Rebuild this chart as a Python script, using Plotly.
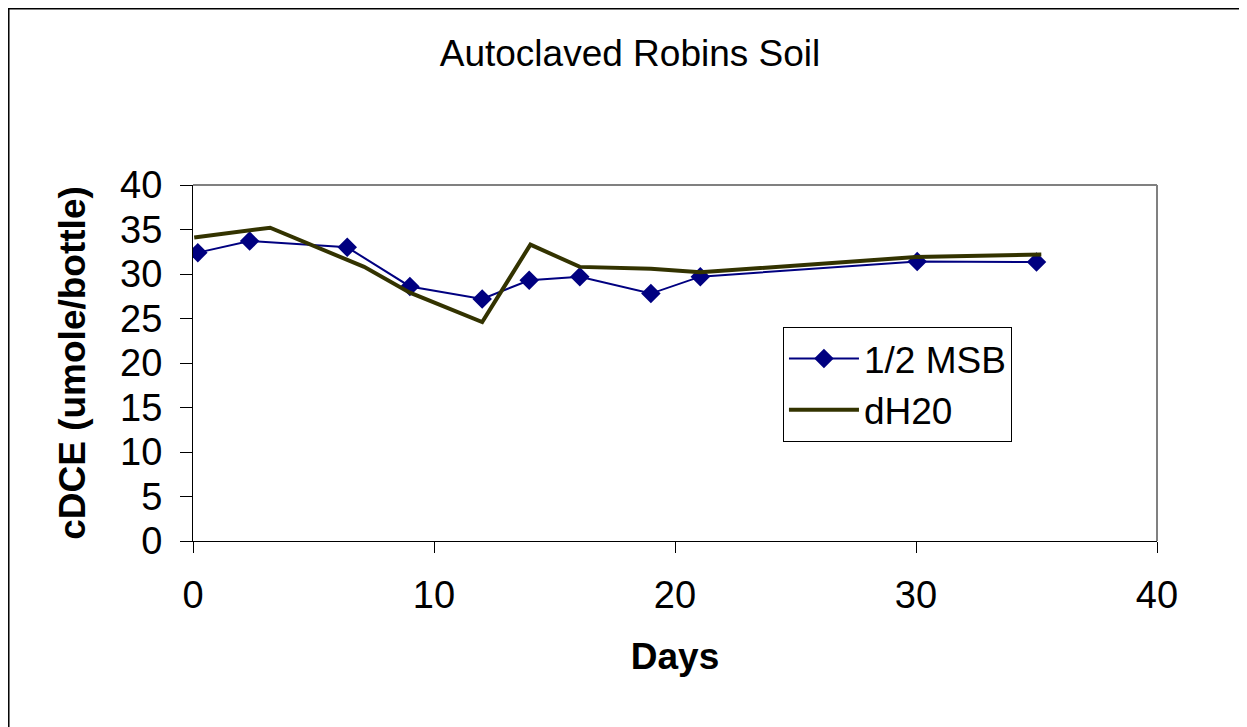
import plotly.graph_objects as go

# Data
msb_days = [0.2, 2.35, 6.4, 9.0, 12.0, 13.95, 16.05, 19.0, 21.05, 30.05, 35.0]
msb_cdce = [32.4, 33.7, 33.0, 28.6, 27.2, 29.3, 29.7, 27.8, 29.7, 31.4, 31.35]

dh2o_days = [0.05, 3.2, 7.1, 9.0, 12.0, 14.0, 16.05, 19.0, 21.05, 30.0, 35.2]
dh2o_cdce = [34.1, 35.2, 30.8, 27.9, 24.6, 33.3, 30.8, 30.6, 30.2, 31.9, 32.2]

x_ticks = [0, 10, 20, 30, 40]
y_ticks = [0, 5, 10, 15, 20, 25, 30, 35, 40]

FONT = "Arial, 'Liberation Sans', sans-serif"

fig = go.Figure()
fig.add_trace(go.Scatter(
    x=msb_days, y=msb_cdce, name="1/2 MSB", mode="lines+markers",
    line=dict(color="#000080", width=2),
    marker=dict(symbol="diamond", size=15, color="#000080"),
))
fig.add_trace(go.Scatter(
    x=dh2o_days, y=dh2o_cdce, name="dH20", mode="lines",
    line=dict(color="#333300", width=4),
))

fig.update_layout(
    width=1239, height=719,
    margin=dict(l=185, r=90, t=177, b=186),
    paper_bgcolor="white", plot_bgcolor="white",
    font=dict(family=FONT, size=38, color="black"),
    title=dict(text="Autoclaved Robins Soil", x=(630 - 8) / 1239, xanchor="center",
               y=1 - 45 / 719, yanchor="middle",
               font=dict(family=FONT, size=37, color="black")),
    showlegend=True,
    legend=dict(x=0.612, y=0.601, xanchor="left", yanchor="top",
                bgcolor="white", bordercolor="black", borderwidth=1,
                font=dict(family=FONT, size=37, color="black"),
                itemwidth=70, tracegroupgap=0),
    xaxis=dict(range=[0, 40], tickvals=x_ticks, showgrid=False, zeroline=False,
               showline=True, linecolor="black", linewidth=1,
               ticks="outside", ticklen=11, tickcolor="black",
               ticklabelstandoff=9,
               tickfont=dict(family=FONT, size=38),
               title=dict(text="<b>Days</b>", standoff=28,
                          font=dict(family=FONT, size=37))),
    yaxis=dict(range=[0, 40], tickvals=y_ticks, showgrid=False, zeroline=False,
               showline=True, linecolor="black", linewidth=1,
               ticks="outside", ticklen=12, tickcolor="black",
               ticklabelstandoff=10,
               tickfont=dict(family=FONT, size=38),
               title=dict(text="<b>cDCE (umole/bottle)</b>", standoff=23,
                          font=dict(family=FONT, size=37))),
    shapes=[
        dict(type="line", xref="paper", yref="paper", x0=0, x1=1, y0=1, y1=1,
             line=dict(color="#808080", width=2)),
        dict(type="line", xref="paper", yref="paper", x0=1, x1=1, y0=0, y1=1,
             line=dict(color="#808080", width=2)),
        # outer chart frame (left and top edges visible)
        dict(type="rect", xref="paper", yref="paper", x0=-0.1911, x1=1.3,
             y0=-0.8, y1=1.4951, line=dict(color="black", width=1.5),
             layer="below"),
    ],
)

fig.write_html("out.html")
